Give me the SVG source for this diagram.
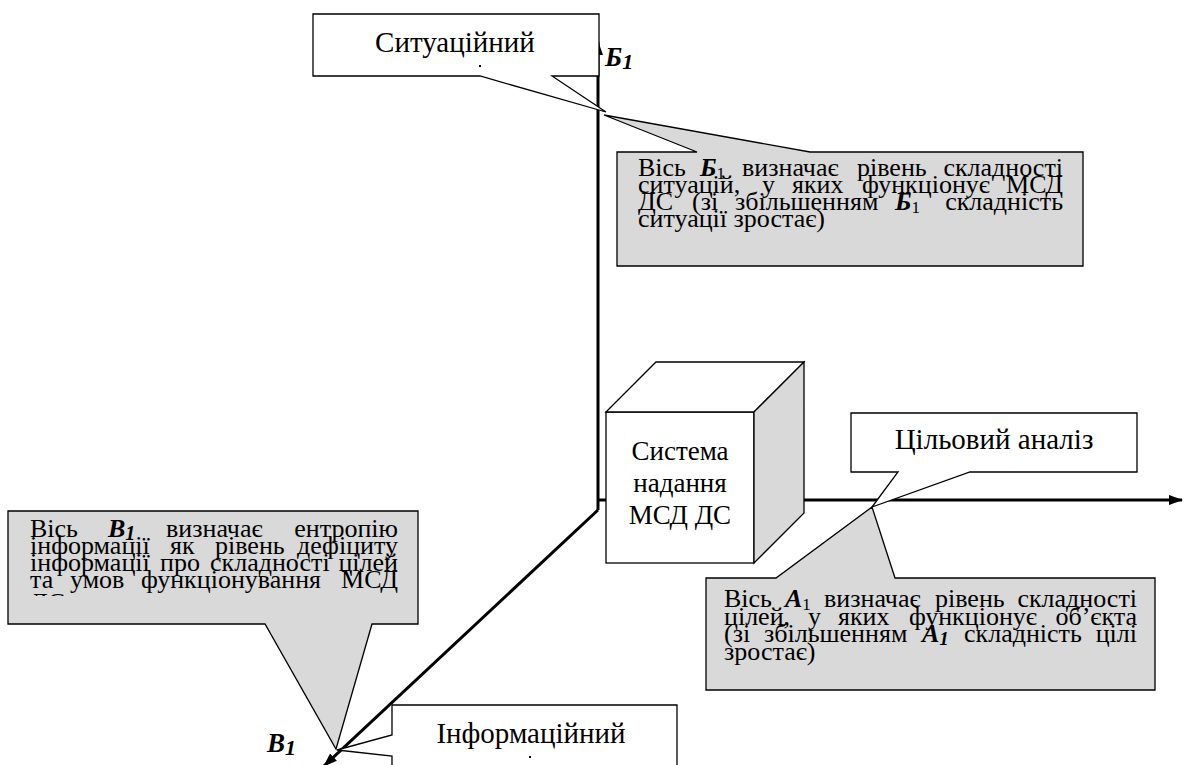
<svg xmlns="http://www.w3.org/2000/svg" width="1184" height="765" viewBox="0 0 1184 765" font-family="'Liberation Serif', 'DejaVu Serif', serif">
<defs>
<style>
text{font-family:'Liberation Serif','DejaVu Serif',serif;fill:#000}
.lbl{font-size:29px}
.cb{font-size:27px}
.tx{font-size:26px}
.bi{font-weight:bold;font-style:italic}
.co{stroke:#000;stroke-width:1.3;stroke-linejoin:miter}
.wh{fill:#fff}
.gr{fill:#d9d9d9}
.axis{stroke:#000;stroke-width:3;fill:none}
.e{text-anchor:end}
</style>
<marker id="arr" markerUnits="userSpaceOnUse" viewBox="0 0 14 10" markerWidth="14" markerHeight="10" refX="13" refY="5" orient="auto">
<path d="M0,0 L14,5 L0,10 z" fill="#000"/>
</marker>
<clipPath id="clipL"><rect x="8" y="511" width="410" height="85"/></clipPath>
</defs>
<rect width="1184" height="765" fill="#fff"/>

<g id="connectors">
<line class="axis" x1="598" y1="510" x2="598" y2="42" marker-end="url(#arr)"/>
<line class="axis" x1="598" y1="500" x2="1182" y2="500" marker-end="url(#arr)"/>
<line class="axis" x1="598" y1="510" x2="324" y2="766" marker-end="url(#arr)"/>
</g>

<g id="cube">
<rect class="co wh" x="606" y="412" width="148" height="151"/>
<polygon class="co wh" points="606,412 656,362 804,362 754,412"/>
<polygon class="co gr" points="754,412 804,362 804,513 754,563"/>
<text class="cb" x="680" y="460" text-anchor="middle">Система</text>
<text class="cb" x="680" y="492" text-anchor="middle">надання</text>
<text class="cb" x="680" y="524" text-anchor="middle">МСД ДС</text>
</g>

<g id="callout-situational">
<path class="co wh" d="M313,14 H599 V76 H552 L606,112 L480,76 H313 Z"/>
<text class="lbl" x="455" y="52" text-anchor="middle">Ситуаційний</text>
<rect x="479" y="65" width="2" height="2" fill="#000"/>
</g>

<g id="label-b1">
<text class="bi" x="605" y="66" font-size="27">Б<tspan font-size="22" dy="3">1</tspan></text>
</g>

<g id="callout-b1">
<path class="co gr" d="M617,152 H697 L604,115 L810,152 H1083 V266 H617 Z"/>
<text class="tx" x="638" y="176">Вісь</text>
<text class="tx" x="700" y="176"><tspan class="bi">Б</tspan><tspan font-size="17" dy="3">1</tspan></text>
<text class="tx" x="742" y="176">визначає</text>
<text class="tx" x="857" y="176">рівень</text>
<text class="tx e" x="1063" y="176">складності</text>
<text class="tx" x="638" y="193">ситуацій,</text>
<text class="tx" x="762" y="193">у</text>
<text class="tx" x="792" y="193">яких</text>
<text class="tx" x="862" y="193">функціонує</text>
<text class="tx e" x="1063" y="193">МСД</text>
<text class="tx" x="638" y="210">ДС</text>
<text class="tx" x="692" y="210">(зі</text>
<text class="tx" x="735" y="210">збільшенням</text>
<text class="tx" x="895" y="210"><tspan class="bi">Б</tspan><tspan font-size="17" dy="3">1</tspan></text>
<text class="tx e" x="1063" y="210">складність</text>
<text class="tx" x="638" y="227">ситуації зростає)</text>
</g>

<g id="callout-target">
<path class="co wh" d="M851,413 H1137 V472 H970 L872,507 L898,472 H851 Z"/>
<text class="lbl" x="994" y="449" text-anchor="middle">Цільовий аналіз</text>
</g>

<g id="callout-a1">
<path class="co gr" d="M706,578 H776 L872,507 L895,578 H1155 V690 H706 Z"/>
<text class="tx" x="724" y="607">Вісь</text>
<text class="tx" x="785" y="607"><tspan class="bi">А</tspan><tspan font-size="17" dy="3">1</tspan></text>
<text class="tx" x="824" y="607">визначає</text>
<text class="tx" x="935" y="607">рівень</text>
<text class="tx e" x="1137" y="607">складності</text>
<text class="tx" x="724" y="624.5">цілей,</text>
<text class="tx" x="808" y="624.5">у</text>
<text class="tx" x="838" y="624.5">яких</text>
<text class="tx" x="909" y="624.5">функціонує</text>
<text class="tx e" x="1137" y="624.5">об’єкта</text>
<text class="tx" x="724" y="642">(зі</text>
<text class="tx" x="764" y="642">збільшенням</text>
<text class="tx bi" x="922" y="642">А<tspan font-size="19" dy="3">1</tspan></text>
<text class="tx" x="964" y="642">складність</text>
<text class="tx e" x="1137" y="642">цілі</text>
<text class="tx" x="724" y="659.5">зростає)</text>
</g>

<g id="callout-v1">
<path class="co gr" d="M8,511 H418 V624 H372 L336,749 L265,624 H8 Z"/>
<g clip-path="url(#clipL)">
<text class="tx" x="30" y="537">Вісь</text>
<text class="tx bi" x="108" y="537">В<tspan font-size="20" dy="3">1</tspan></text>
<text class="tx" x="166" y="537">визначає</text>
<text class="tx e" x="398" y="537">ентропію</text>
<text class="tx" x="30" y="554">інформації</text>
<text class="tx" x="170" y="554">як</text>
<text class="tx" x="215" y="554">рівень</text>
<text class="tx e" x="398" y="554">дефіциту</text>
<text class="tx" x="30" y="571">інформації</text>
<text class="tx" x="160" y="571">про</text>
<text class="tx" x="210" y="571">складності</text>
<text class="tx e" x="398" y="571">цілей</text>
<text class="tx" x="30" y="588">та</text>
<text class="tx" x="70" y="588">умов</text>
<text class="tx" x="141" y="588">функціонування</text>
<text class="tx e" x="398" y="588">МСД</text>
<text class="tx" x="30" y="611">ДС</text>
</g>
</g>

<g id="label-v1">
<text class="bi" x="267" y="752" font-size="27">В<tspan font-size="22" dy="3">1</tspan></text>
</g>

<g id="callout-info">
<path class="co wh" d="M392,705 H677 V770 H392 V756 L337,750 L392,735 Z"/>
<text class="lbl" x="531" y="743" text-anchor="middle">Інформаційний</text>
<rect x="529" y="756" width="2" height="2" fill="#000"/>
</g>
</svg>
